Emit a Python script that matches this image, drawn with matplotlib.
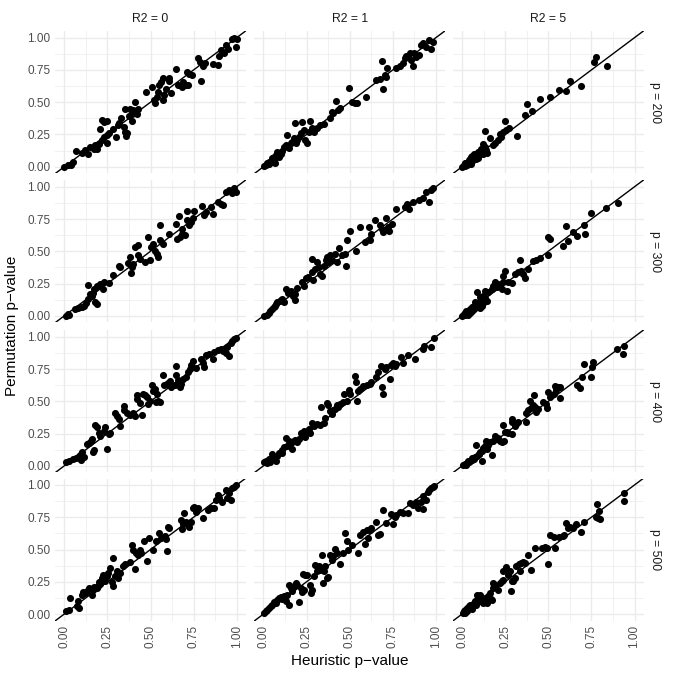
import numpy as np
import matplotlib
matplotlib.use("Agg")
import matplotlib.pyplot as plt

plt.rcParams['font.family'] = ['Liberation Sans', 'DejaVu Sans']

# facet levels
r2_levels = ["R2 = 0", "R2 = 1", "R2 = 5"]
p_levels = ["p = 200", "p = 300", "p = 400", "p = 500"]
tick_vals = [0.0, 0.25, 0.5, 0.75, 1.0]
tick_labels = ["0.00", "0.25", "0.50", "0.75", "1.00"]

# (heuristic p-value, permutation p-value)
pts_p200_r0 = [
    (0, 0), (0.02, 0.01), (0.04, 0.015), (0.05, 0.04), (0.07, 0.12), (0.10, 0.11), (0.12, 0.13),
    (0.14, 0.10), (0.15, 0.155), (0.17, 0.14), (0.18, 0.17), (0.19, 0.14), (0.20, 0.175),
    (0.21, 0.29), (0.22, 0.36), (0.23, 0.35), (0.245, 0.355), (0.22, 0.21), (0.23, 0.23),
    (0.245, 0.185), (0.25, 0.245), (0.26, 0.26), (0.28, 0.29), (0.30, 0.23), (0.31, 0.32),
    (0.32, 0.34), (0.33, 0.375), (0.345, 0.305), (0.35, 0.27), (0.36, 0.24), (0.365, 0.26),
    (0.355, 0.45), (0.375, 0.39), (0.38, 0.445), (0.39, 0.41), (0.40, 0.44), (0.395, 0.355),
    (0.41, 0.505), (0.42, 0.41), (0.43, 0.45), (0.475, 0.58), (0.51, 0.615), (0.52, 0.515),
    (0.525, 0.49), (0.535, 0.54), (0.545, 0.58), (0.55, 0.63), (0.56, 0.66), (0.57, 0.69),
    (0.575, 0.515), (0.58, 0.555), (0.59, 0.605), (0.605, 0.665), (0.61, 0.69), (0.62, 0.57),
    (0.65, 0.76), (0.66, 0.63), (0.68, 0.62), (0.69, 0.66), (0.705, 0.63), (0.72, 0.63),
    (0.725, 0.72), (0.71, 0.735), (0.74, 0.71), (0.775, 0.84), (0.785, 0.815), (0.79, 0.665),
    (0.805, 0.78), (0.815, 0.805), (0.86, 0.795), (0.89, 0.79), (0.90, 0.855), (0.91, 0.905),
    (0.925, 0.88), (0.94, 0.945), (0.95, 0.915), (0.975, 0.99), (0.985, 0.995), (0.995, 0.93),
    (1.0, 0.99),
]
pts_p200_r1 = [
    (0.004, 0.005), (0.013, 0.013), (0.023, 0.026), (0.033, 0.021), (0.042, 0.039), (0.052, 0.065),
    (0.061, 0.078), (0.071, 0.09), (0.08, 0.116), (0.065, 0.031), (0.09, 0.078), (0.1, 0.098),
    (0.119, 0.155), (0.128, 0.168), (0.138, 0.245), (0.148, 0.142), (0.157, 0.181), (0.167, 0.194),
    (0.176, 0.22), (0.186, 0.181), (0.182, 0.336), (0.195, 0.207), (0.205, 0.233), (0.215, 0.258),
    (0.224, 0.349), (0.234, 0.284), (0.243, 0.207), (0.253, 0.186), (0.262, 0.271), (0.272, 0.357),
    (0.282, 0.297), (0.291, 0.271), (0.31, 0.297), (0.33, 0.323), (0.349, 0.331), (0.387, 0.375),
    (0.397, 0.426), (0.406, 0.413), (0.421, 0.512), (0.435, 0.439), (0.444, 0.452), (0.498, 0.607),
    (0.511, 0.504), (0.531, 0.491), (0.54, 0.496), (0.594, 0.537), (0.655, 0.672), (0.678, 0.677),
    (0.69, 0.819), (0.693, 0.599), (0.703, 0.711), (0.713, 0.698), (0.716, 0.762), (0.77, 0.762),
    (0.789, 0.78), (0.808, 0.801), (0.818, 0.84), (0.828, 0.858), (0.847, 0.879), (0.856, 0.827),
    (0.866, 0.78), (0.875, 0.879), (0.885, 0.853), (0.904, 0.866), (0.914, 0.943), (0.923, 0.956),
    (0.943, 0.93), (0.962, 0.982), (0.971, 0.91), (0.981, 0.969), (0.03, 0.04), (0.11, 0.12),
    (0.06, 0.05),
]
pts_p200_r5 = [
    (0, 0), (0.012, 0.013), (0.019, 0.026), (0.031, 0.021), (0.038, 0.039), (0.044, 0.057),
    (0.054, 0.072), (0.063, 0.052), (0.073, 0.083), (0.083, 0.098), (0.092, 0.116), (0.102, 0.109),
    (0.111, 0.134), (0.121, 0.176), (0.131, 0.155), (0.14, 0.129), (0.134, 0.279), (0.146, 0.109),
    (0.159, 0.22), (0.179, 0.168), (0.188, 0.181), (0.207, 0.207), (0.217, 0.253), (0.226, 0.233),
    (0.236, 0.271), (0.25, 0.357), (0.255, 0.284), (0.274, 0.297), (0.317, 0.24), (0.365, 0.401),
    (0.376, 0.483), (0.403, 0.434), (0.453, 0.522), (0.511, 0.537), (0.562, 0.594), (0.601, 0.587),
    (0.626, 0.667), (0.687, 0.625), (0.764, 0.814), (0.779, 0.853), (0.841, 0.78),
    (0.02, 0.03), (0.03, 0.01), (0.05, 0.04), (0.06, 0.08), (0.08, 0.06), (0.09, 0.07),
    (0.10, 0.09), (0.12, 0.10), (0.05, 0.02), (0.04, 0.05), (0.07, 0.10), (0.015, 0.005),
]
pts_p300_r0 = [
    (0.01, 0.0), (0.03, 0.01), (0.06, 0.05), (0.08, 0.06), (0.095, 0.065), (0.115, 0.08),
    (0.125, 0.10), (0.135, 0.24), (0.15, 0.17), (0.165, 0.18), (0.17, 0.21), (0.18, 0.105),
    (0.19, 0.09), (0.19, 0.235), (0.21, 0.245), (0.23, 0.26), (0.225, 0.21), (0.26, 0.255),
    (0.28, 0.315), (0.315, 0.39), (0.325, 0.375), (0.37, 0.41), (0.38, 0.455), (0.385, 0.33),
    (0.39, 0.375), (0.40, 0.40), (0.41, 0.53), (0.43, 0.545), (0.43, 0.47), (0.44, 0.44),
    (0.47, 0.415), (0.485, 0.61), (0.495, 0.43), (0.505, 0.53), (0.515, 0.56), (0.525, 0.505),
    (0.535, 0.48), (0.545, 0.455), (0.555, 0.705), (0.555, 0.585), (0.575, 0.56), (0.61, 0.635),
    (0.65, 0.715), (0.655, 0.595), (0.67, 0.61), (0.68, 0.675), (0.685, 0.635), (0.665, 0.775),
    (0.70, 0.625), (0.71, 0.74), (0.71, 0.81), (0.725, 0.705), (0.735, 0.725), (0.745, 0.755),
    (0.755, 0.81), (0.80, 0.85), (0.81, 0.78), (0.82, 0.805), (0.85, 0.845), (0.86, 0.79),
    (0.89, 0.885), (0.91, 0.87), (0.92, 0.855), (0.935, 0.96), (0.955, 0.975), (0.97, 0.95),
    (0.985, 0.99), (0.995, 0.96), (0.02, 0.015), (0.1, 0.07), (0.16, 0.15), (0.14, 0.13),
]
pts_p300_r1 = [
    (0.005, 0), (0.02, 0.01), (0.04, 0.04), (0.05, 0.055), (0.06, 0.07), (0.07, 0.09),
    (0.08, 0.105), (0.095, 0.115), (0.11, 0.13), (0.12, 0.11), (0.13, 0.21), (0.14, 0.18),
    (0.16, 0.195), (0.17, 0.155), (0.18, 0.125), (0.185, 0.17), (0.195, 0.215), (0.225, 0.26),
    (0.235, 0.235), (0.245, 0.29), (0.26, 0.30), (0.28, 0.44), (0.28, 0.34), (0.29, 0.275),
    (0.30, 0.365), (0.31, 0.415), (0.32, 0.375), (0.33, 0.325), (0.34, 0.31), (0.35, 0.39),
    (0.36, 0.43), (0.37, 0.455), (0.375, 0.415), (0.385, 0.47), (0.395, 0.43), (0.415, 0.48),
    (0.425, 0.415), (0.44, 0.525), (0.455, 0.47), (0.475, 0.48), (0.48, 0.39), (0.485, 0.585),
    (0.50, 0.66), (0.535, 0.50), (0.56, 0.685), (0.59, 0.57), (0.61, 0.685), (0.615, 0.585),
    (0.625, 0.635), (0.645, 0.74), (0.675, 0.70), (0.685, 0.675), (0.695, 0.65), (0.70, 0.665),
    (0.71, 0.76), (0.72, 0.685), (0.73, 0.66), (0.745, 0.715), (0.77, 0.825), (0.82, 0.845),
    (0.835, 0.87), (0.845, 0.825), (0.865, 0.885), (0.90, 0.895), (0.925, 0.91), (0.94, 0.96),
    (0.96, 0.885), (0.97, 0.975), (0.985, 0.99), (0.03, 0.02), (0.065, 0.08), (0.1, 0.12),
]
pts_p300_r5 = [
    (0, 0), (0.01, 0.013), (0.019, 0.021), (0.029, 0.026), (0.038, 0.031), (0.048, 0.021),
    (0.057, 0.039), (0.067, 0.052), (0.076, 0.065), (0.086, 0.078), (0.096, 0.07), (0.105, 0.057),
    (0.115, 0.073), (0.073, 0.104), (0.086, 0.182), (0.105, 0.143), (0.115, 0.125), (0.124, 0.156),
    (0.134, 0.135), (0.143, 0.117), (0.134, 0.195), (0.153, 0.182), (0.172, 0.208), (0.182, 0.234),
    (0.191, 0.265), (0.2, 0.221), (0.21, 0.247), (0.22, 0.234), (0.229, 0.208), (0.239, 0.265),
    (0.239, 0.312), (0.249, 0.351), (0.258, 0.195), (0.268, 0.26), (0.287, 0.255), (0.306, 0.325),
    (0.325, 0.338), (0.335, 0.436), (0.344, 0.351), (0.354, 0.325), (0.363, 0.291), (0.382, 0.364),
    (0.411, 0.421), (0.43, 0.429), (0.449, 0.447), (0.497, 0.475), (0.497, 0.61), (0.507, 0.592),
    (0.583, 0.54), (0.602, 0.696), (0.612, 0.577), (0.641, 0.649), (0.669, 0.618), (0.707, 0.706),
    (0.711, 0.636), (0.75, 0.8), (0.832, 0.836), (0.902, 0.878),
    (0.015, 0.005), (0.025, 0.04), (0.045, 0.05), (0.06, 0.07), (0.08, 0.09), (0.09, 0.1),
    (0.1, 0.11), (0.12, 0.1), (0.035, 0.01), (0.07, 0.08),
]
pts_p400_r0 = [
    (0.01, 0.026), (0.029, 0.039), (0.048, 0.052), (0.067, 0.057), (0.086, 0.073), (0.096, 0.091),
    (0.105, 0.109), (0.115, 0.065), (0.099, 0.047), (0.134, 0.169), (0.143, 0.177), (0.153, 0.195),
    (0.163, 0.208), (0.168, 0.109), (0.172, 0.125), (0.176, 0.317), (0.191, 0.299), (0.2, 0.255),
    (0.21, 0.234), (0.229, 0.273), (0.239, 0.299), (0.249, 0.13), (0.258, 0.247), (0.268, 0.255),
    (0.296, 0.41), (0.306, 0.39), (0.315, 0.364), (0.325, 0.312), (0.344, 0.429), (0.348, 0.462),
    (0.363, 0.41), (0.382, 0.395), (0.398, 0.41), (0.411, 0.39), (0.421, 0.545), (0.424, 0.519),
    (0.44, 0.488), (0.449, 0.395), (0.459, 0.558), (0.468, 0.551), (0.478, 0.532), (0.488, 0.481),
    (0.497, 0.506), (0.507, 0.623), (0.516, 0.577), (0.526, 0.597), (0.532, 0.494), (0.535, 0.558),
    (0.545, 0.506), (0.554, 0.494), (0.574, 0.706), (0.577, 0.623), (0.593, 0.636), (0.602, 0.644),
    (0.612, 0.655), (0.621, 0.61), (0.641, 0.629), (0.646, 0.774), (0.65, 0.706), (0.66, 0.662),
    (0.669, 0.61), (0.679, 0.636), (0.688, 0.67), (0.707, 0.688), (0.717, 0.727), (0.727, 0.753),
    (0.736, 0.779), (0.746, 0.81), (0.765, 0.758), (0.793, 0.831), (0.803, 0.8), (0.813, 0.766),
    (0.822, 0.862), (0.841, 0.87), (0.86, 0.831), (0.87, 0.883), (0.889, 0.896), (0.908, 0.909),
    (0.918, 0.888), (0.937, 0.878), (0.956, 0.852), (0.946, 0.922), (0.966, 0.948), (0.975, 0.966),
    (0.985, 0.982), (0.994, 0.992),
]
pts_p400_r1 = [
    (0.004, 0.026), (0.013, 0.039), (0.023, 0.021), (0.033, 0.052), (0.052, 0.091), (0.061, 0.065),
    (0.071, 0.039), (0.08, 0.078), (0.09, 0.099), (0.1, 0.109), (0.109, 0.125), (0.119, 0.143),
    (0.128, 0.213), (0.138, 0.156), (0.148, 0.195), (0.157, 0.177), (0.167, 0.13), (0.176, 0.195),
    (0.195, 0.182), (0.205, 0.208), (0.215, 0.255), (0.224, 0.234), (0.234, 0.273), (0.243, 0.221),
    (0.253, 0.26), (0.262, 0.286), (0.272, 0.255), (0.282, 0.332), (0.291, 0.312), (0.31, 0.325),
    (0.33, 0.317), (0.333, 0.455), (0.349, 0.332), (0.358, 0.369), (0.368, 0.488), (0.377, 0.468),
    (0.387, 0.421), (0.397, 0.403), (0.406, 0.429), (0.416, 0.442), (0.425, 0.473), (0.435, 0.455),
    (0.444, 0.481), (0.464, 0.494), (0.469, 0.558), (0.483, 0.506), (0.498, 0.584), (0.502, 0.558),
    (0.531, 0.696), (0.536, 0.649), (0.544, 0.506), (0.55, 0.577), (0.559, 0.597), (0.579, 0.618),
    (0.598, 0.623), (0.617, 0.636), (0.626, 0.649), (0.655, 0.688), (0.665, 0.727), (0.684, 0.774),
    (0.69, 0.61), (0.693, 0.558), (0.703, 0.753), (0.713, 0.766), (0.732, 0.675), (0.741, 0.784),
    (0.751, 0.8), (0.761, 0.774), (0.77, 0.792), (0.799, 0.844), (0.808, 0.8), (0.837, 0.857),
    (0.881, 0.826), (0.923, 0.909), (0.933, 0.93), (0.971, 0.922), (0.99, 0.992),
    (0.04, 0.03), (0.11, 0.1), (0.185, 0.2),
]
pts_p400_r5 = [
    (0.004, 0.005), (0.015, 0.013), (0.029, 0.021), (0.038, 0.026), (0.048, 0.039), (0.057, 0.047),
    (0.067, 0.052), (0.076, 0.065), (0.086, 0.078), (0.08, 0.161), (0.096, 0.091), (0.105, 0.104),
    (0.115, 0.039), (0.115, 0.117), (0.124, 0.135), (0.134, 0.151), (0.138, 0.195), (0.143, 0.13),
    (0.153, 0.161), (0.163, 0.182), (0.172, 0.083), (0.182, 0.195), (0.191, 0.234), (0.2, 0.208),
    (0.21, 0.213), (0.22, 0.195), (0.229, 0.182), (0.239, 0.317), (0.245, 0.195), (0.249, 0.26),
    (0.258, 0.265), (0.268, 0.255), (0.287, 0.247), (0.287, 0.364), (0.291, 0.343), (0.306, 0.312),
    (0.315, 0.325), (0.325, 0.338), (0.373, 0.338), (0.373, 0.41), (0.382, 0.429), (0.392, 0.506),
    (0.402, 0.447), (0.411, 0.468), (0.417, 0.551), (0.424, 0.455), (0.43, 0.416), (0.44, 0.442),
    (0.468, 0.494), (0.488, 0.481), (0.493, 0.447), (0.497, 0.571), (0.507, 0.532), (0.52, 0.545),
    (0.532, 0.558), (0.539, 0.618), (0.545, 0.584), (0.554, 0.61), (0.57, 0.525), (0.57, 0.61),
    (0.669, 0.623), (0.685, 0.603), (0.698, 0.688), (0.707, 0.792), (0.75, 0.688), (0.751, 0.766),
    (0.761, 0.805), (0.899, 0.909), (0.933, 0.87), (0.941, 0.93),
    (0.02, 0.01), (0.035, 0.035), (0.06, 0.06), (0.1, 0.095),
]
pts_p500_r0 = [
    (0.012, 0.021), (0.025, 0.034), (0.035, 0.124), (0.073, 0.059), (0.083, 0.046), (0.102, 0.149),
    (0.111, 0.17), (0.121, 0.162), (0.131, 0.175), (0.146, 0.201), (0.159, 0.144), (0.169, 0.188),
    (0.188, 0.201), (0.198, 0.214), (0.207, 0.232), (0.217, 0.278), (0.226, 0.304), (0.236, 0.258),
    (0.246, 0.291), (0.255, 0.317), (0.265, 0.356), (0.274, 0.247), (0.28, 0.433), (0.284, 0.214),
    (0.294, 0.291), (0.303, 0.33), (0.313, 0.278), (0.322, 0.317), (0.342, 0.369), (0.351, 0.387),
    (0.38, 0.402), (0.39, 0.536), (0.399, 0.497), (0.409, 0.351), (0.418, 0.472), (0.428, 0.459),
    (0.438, 0.497), (0.447, 0.472), (0.461, 0.567), (0.482, 0.412), (0.491, 0.588), (0.514, 0.497),
    (0.534, 0.562), (0.549, 0.626), (0.562, 0.588), (0.582, 0.601), (0.591, 0.582), (0.595, 0.49),
    (0.601, 0.678), (0.61, 0.665), (0.678, 0.729), (0.683, 0.66), (0.687, 0.696), (0.697, 0.781),
    (0.706, 0.716), (0.716, 0.691), (0.726, 0.678), (0.735, 0.716), (0.745, 0.825), (0.754, 0.832),
    (0.764, 0.794), (0.774, 0.82), (0.802, 0.742), (0.831, 0.807), (0.85, 0.82), (0.869, 0.82),
    (0.879, 0.884), (0.889, 0.923), (0.898, 0.897), (0.917, 0.871), (0.937, 0.961), (0.946, 0.897),
    (0.956, 0.936), (0.965, 0.884), (0.975, 0.974), (0.985, 0.987), (0.994, 1.0),
    (0.08, 0.1), (0.17, 0.21), (0.2, 0.25),
]
pts_p500_r1 = [
    (0.004, 0.008), (0.013, 0.021), (0.023, 0.034), (0.033, 0.046), (0.042, 0.059), (0.052, 0.072),
    (0.061, 0.093), (0.071, 0.085), (0.08, 0.111), (0.09, 0.124), (0.1, 0.129), (0.109, 0.119),
    (0.119, 0.137), (0.128, 0.098), (0.138, 0.149), (0.148, 0.067), (0.148, 0.227), (0.157, 0.201),
    (0.167, 0.175), (0.176, 0.214), (0.186, 0.24), (0.195, 0.227), (0.205, 0.093), (0.215, 0.201),
    (0.224, 0.17), (0.23, 0.309), (0.234, 0.188), (0.243, 0.304), (0.253, 0.304), (0.272, 0.222),
    (0.276, 0.162), (0.282, 0.188), (0.291, 0.291), (0.301, 0.381), (0.31, 0.33), (0.32, 0.369),
    (0.33, 0.343), (0.339, 0.454), (0.345, 0.24), (0.349, 0.33), (0.358, 0.376), (0.368, 0.278),
    (0.377, 0.284), (0.387, 0.459), (0.397, 0.42), (0.406, 0.446), (0.416, 0.505), (0.429, 0.472),
    (0.441, 0.387), (0.464, 0.472), (0.473, 0.626), (0.483, 0.567), (0.492, 0.497), (0.511, 0.536),
    (0.55, 0.472), (0.559, 0.613), (0.579, 0.639), (0.588, 0.541), (0.598, 0.652), (0.607, 0.588),
    (0.617, 0.652), (0.626, 0.665), (0.655, 0.716), (0.665, 0.613), (0.674, 0.619), (0.693, 0.807),
    (0.713, 0.704), (0.741, 0.773), (0.751, 0.696), (0.761, 0.755), (0.77, 0.768), (0.789, 0.789),
    (0.808, 0.781), (0.837, 0.781), (0.847, 0.858), (0.866, 0.845), (0.885, 0.871), (0.895, 0.82),
    (0.914, 0.871), (0.923, 0.918), (0.927, 0.814), (0.943, 0.884), (0.952, 0.948), (0.962, 0.961),
    (0.971, 0.974), (0.981, 0.987), (0.99, 0.995),
]
pts_p500_r5 = [
    (0.004, 0.008), (0.01, 0.021), (0.019, 0.034), (0.029, 0.046), (0.038, 0.059), (0.048, 0.072),
    (0.057, 0.041), (0.067, 0.085), (0.076, 0.098), (0.086, 0.144), (0.096, 0.119), (0.105, 0.149),
    (0.115, 0.103), (0.124, 0.085), (0.134, 0.124), (0.143, 0.085), (0.153, 0.137), (0.163, 0.162),
    (0.168, 0.119), (0.172, 0.111), (0.182, 0.201), (0.182, 0.24), (0.191, 0.227), (0.207, 0.188),
    (0.22, 0.24), (0.229, 0.258), (0.239, 0.265), (0.239, 0.33), (0.252, 0.361), (0.258, 0.343),
    (0.268, 0.304), (0.277, 0.33), (0.283, 0.18), (0.287, 0.253), (0.296, 0.258), (0.306, 0.278),
    (0.315, 0.376), (0.329, 0.387), (0.335, 0.33), (0.344, 0.394), (0.354, 0.402), (0.363, 0.394),
    (0.382, 0.454), (0.398, 0.343), (0.424, 0.515), (0.463, 0.515), (0.478, 0.523), (0.493, 0.515),
    (0.497, 0.387), (0.507, 0.613), (0.535, 0.593), (0.539, 0.515), (0.564, 0.593), (0.583, 0.601),
    (0.593, 0.613), (0.602, 0.704), (0.612, 0.67), (0.627, 0.678), (0.641, 0.665), (0.66, 0.696),
    (0.688, 0.634), (0.707, 0.716), (0.774, 0.755), (0.784, 0.851), (0.788, 0.742), (0.793, 0.799),
    (0.799, 0.737), (0.937, 0.936), (0.941, 0.876),
    (0.015, 0.01), (0.03, 0.02), (0.045, 0.05), (0.06, 0.07), (0.08, 0.07), (0.1, 0.1),
]

panel_points = [
    [pts_p200_r0, pts_p200_r1, pts_p200_r5],
    [pts_p300_r0, pts_p300_r1, pts_p300_r5],
    [pts_p400_r0, pts_p400_r1, pts_p400_r5],
    [pts_p500_r0, pts_p500_r1, pts_p500_r5],
]

W = H = 676
fig = plt.figure(figsize=(6.76, 6.76), dpi=100)

# panel boxes in pixels (left, top), like ggplot facet_grid
col_left = [54.8, 254.0, 452.6]
row_top = [31.2, 180.3, 330.3, 478.5]
pw, ph = 191.4, 142.0

grid_major = "#EBEBEB"
tick_col = "#4D4D4D"

for i in range(4):
    for j in range(3):
        ax = fig.add_axes([col_left[j] / W, 1 - (row_top[i] + ph) / H, pw / W, ph / H])
        pts = np.array(panel_points[i][j])
        ax.set_xlim(-0.055, 1.055)
        ax.set_ylim(-0.05, 1.05)
        ax.set_xticks(tick_vals)
        ax.set_yticks(tick_vals)
        ax.set_xticks([0.125, 0.375, 0.625, 0.875], minor=True)
        ax.set_yticks([0.125, 0.375, 0.625, 0.875], minor=True)
        ax.grid(True, which="major", color=grid_major, lw=1.0)
        ax.grid(True, which="minor", color=grid_major, lw=0.5)
        ax.set_axisbelow(True)
        for s in ax.spines.values():
            s.set_visible(False)
        ax.tick_params(which="both", length=0, labelsize=8.5, colors=tick_col, pad=3)
        if j == 0:
            ax.set_yticklabels(tick_labels)
        else:
            ax.set_yticklabels([])
        if i == 3:
            ax.set_xticklabels(tick_labels, rotation=90)
        else:
            ax.set_xticklabels([])
        ax.plot([-0.1, 1.1], [-0.1, 1.1], color="black", lw=1.0, zorder=2)
        ax.scatter(pts[:, 0], pts[:, 1], s=26, color="black", lw=0, zorder=3)
        if i == 0:
            ax.text(0.5, 1.0 + 12.5 / ph, r2_levels[j], transform=ax.transAxes,
                    ha="center", va="center", fontsize=8.7, color="#1A1A1A")
        if j == 2:
            ax.text(1.0 + 11 / pw, 0.5, p_levels[i], transform=ax.transAxes,
                    ha="center", va="center", rotation=-90, fontsize=8.7, color="#1A1A1A")

fig.text(350 / W, 1 - 661 / H, "Heuristic p\u2212value", ha="center", va="center", fontsize=11)
fig.text(12 / W, 1 - 326 / H, "Permutation p\u2212value", ha="center", va="center",
         rotation=90, fontsize=11)

fig.savefig("out.png", dpi=100, facecolor="white")
